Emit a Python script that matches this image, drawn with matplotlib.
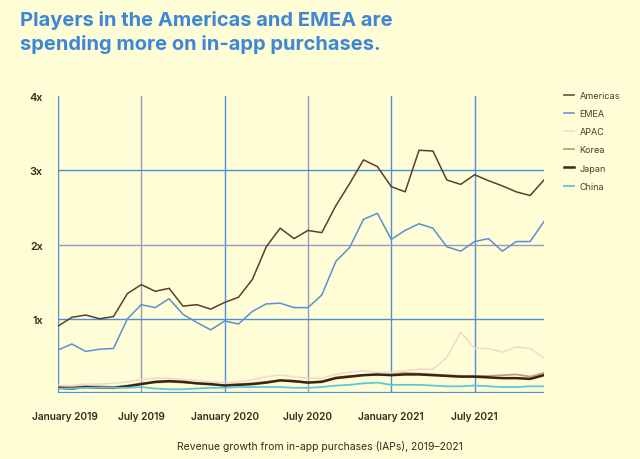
import numpy as np
import matplotlib.pyplot as plt
import matplotlib.transforms as mtransforms

plt.rcParams['font.family'] = ['Inter', 'DejaVu Sans']

months = np.arange(36)  # Jan 2019 .. Dec 2021
tick_pos = [0, 6, 12, 18, 24, 30]
tick_labels = ['January 2019', 'July 2019', 'January 2020', 'July 2020', 'January 2021', 'July 2021']

americas = [0.90, 1.02, 1.05, 1.00, 1.03, 1.34, 1.46, 1.37, 1.41, 1.17, 1.19, 1.13,
            1.22, 1.29, 1.53, 1.97, 2.22, 2.08, 2.19, 2.16, 2.52, 2.82, 3.14, 3.05,
            2.78, 2.71, 3.27, 3.26, 2.87, 2.81, 2.94, 2.86, 2.79, 2.71, 2.66, 2.87]
emea = [0.58, 0.66, 0.56, 0.59, 0.60, 1.00, 1.19, 1.15, 1.27, 1.06, 0.95, 0.85,
        0.97, 0.93, 1.10, 1.20, 1.21, 1.15, 1.15, 1.32, 1.77, 1.96, 2.34, 2.42,
        2.07, 2.19, 2.28, 2.22, 1.97, 1.91, 2.04, 2.08, 1.91, 2.04, 2.04, 2.31]
apac = [0.10, 0.10, 0.12, 0.12, 0.13, 0.15, 0.18, 0.20, 0.20, 0.18, 0.17, 0.15,
        0.14, 0.15, 0.18, 0.22, 0.24, 0.22, 0.20, 0.20, 0.25, 0.28, 0.30, 0.28,
        0.28, 0.30, 0.32, 0.32, 0.48, 0.82, 0.60, 0.60, 0.55, 0.62, 0.60, 0.47]
korea = [0.08, 0.08, 0.09, 0.09, 0.08, 0.10, 0.13, 0.14, 0.15, 0.14, 0.13, 0.11,
         0.11, 0.12, 0.13, 0.15, 0.17, 0.15, 0.14, 0.16, 0.21, 0.23, 0.24, 0.24,
         0.25, 0.27, 0.26, 0.25, 0.24, 0.23, 0.23, 0.23, 0.24, 0.25, 0.22, 0.27]
japan = [0.07, 0.06, 0.08, 0.07, 0.07, 0.09, 0.12, 0.15, 0.16, 0.15, 0.13, 0.12,
         0.10, 0.11, 0.12, 0.14, 0.17, 0.16, 0.14, 0.15, 0.20, 0.22, 0.24, 0.25,
         0.24, 0.25, 0.25, 0.24, 0.23, 0.22, 0.22, 0.21, 0.20, 0.20, 0.19, 0.24]
china = [0.06, 0.06, 0.07, 0.07, 0.07, 0.07, 0.08, 0.06, 0.05, 0.05, 0.06, 0.07,
         0.07, 0.08, 0.08, 0.08, 0.08, 0.07, 0.07, 0.08, 0.10, 0.11, 0.13, 0.14,
         0.11, 0.11, 0.11, 0.10, 0.09, 0.09, 0.10, 0.09, 0.08, 0.08, 0.09, 0.09]

bg = '#fffdd5'
blue = '#4d8fdc'
grayblue = '#9a98bc'
dark = '#3b2a1c'

fig = plt.figure(figsize=(6.4, 4.6), dpi=100, facecolor=bg)
ax = fig.add_axes([0.0906, 0.1435, 0.7594, 0.6455])
ax.set_facecolor(bg)

# grid
for i, p in enumerate(tick_pos):
    c = grayblue if i in (1, 3) else blue
    ax.axvline(p, 0, 1, color=c, lw=1.0, zorder=1)
for v in [1, 2, 3]:
    c = grayblue if v == 2 else blue
    ax.axhline(v, color=c, lw=1.0, zorder=1)
ax.axhline(0, color=blue, lw=1.6, zorder=1)

series = [
    ('Americas', americas, '#5b3f2c', 1.1),
    ('EMEA', emea, '#5a8fd4', 1.1),
    ('APAC', apac, '#f2d9cc', 1.1),
    ('Korea', korea, '#c49a74', 1.3),
    ('Japan', japan, '#3a2416', 1.8),
    ('China', china, '#5fc6d9', 1.3),
]
for name, vals, col, lw in series:
    ax.plot(months, vals, color=col, lw=lw, label=name, zorder=3)

ax.set_xlim(0, 35)
ax.set_ylim(0, 4)
for s in ax.spines.values():
    s.set_visible(False)
ax.set_yticks([1, 2, 3, 4])
ax.set_yticklabels(['1x', '2x', '3x', '4x'])
ax.set_xticks(tick_pos)
ax.set_xticklabels(tick_labels)
ax.tick_params(length=0, labelcolor=dark)
ax.tick_params(axis='x', pad=13, labelsize=7.3)
ax.tick_params(axis='y', pad=11, labelsize=7.8)
for t in ax.get_xticklabels() + ax.get_yticklabels():
    t.set_fontweight('semibold')
first = ax.get_xticklabels()[0]
first.set_transform(first.get_transform() +
                    mtransforms.ScaledTranslation(0.07, 0, fig.dpi_scale_trans))

leg = ax.legend(loc='upper left', bbox_to_anchor=(1.025, 1.045), frameon=False,
                fontsize=6.5, handlelength=1.1, labelspacing=1.02, handletextpad=0.6)
for t in leg.get_texts():
    t.set_color('#4a3a30')

fig.text(0.031, 0.975, 'Players in the Americas and EMEA are\nspending more on in-app purchases.',
         color='#3d86d8', fontsize=14.5, fontweight='bold', va='top', ha='left',
         linespacing=1.3)
fig.text(0.5, 0.03, 'Revenue growth from in-app purchases (IAPs), 2019\u20132021',
         color=dark, fontsize=7.5, ha='center', va='center')

fig.savefig('out.png', dpi=100, facecolor=bg)
